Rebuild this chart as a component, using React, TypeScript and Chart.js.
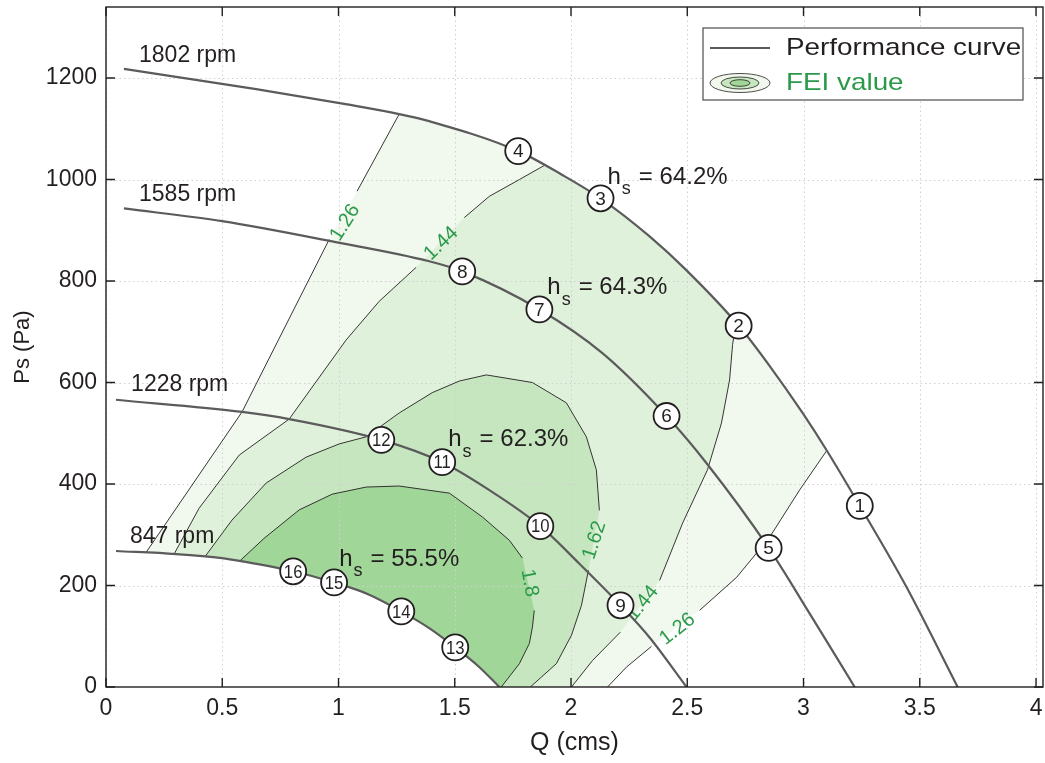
import React, { useEffect, useRef } from 'react';
import { Chart, registerables } from 'chart.js';

Chart.register(...registerables);

const FONT = "'Liberation Sans', Arial, Helvetica, sans-serif";
const INK = '#231f20';
const CURVE = '#5b5b5b';
const GREEN = '#2a9a4a';

const X_TICKS = [0, 0.5, 1, 1.5, 2, 2.5, 3, 3.5, 4];
const Y_TICKS = [0, 200, 400, 600, 800, 1000, 1200];

// Performance curves (Q in cms, Ps in Pa)
const RPM_LABELS = ['1802 rpm', '1585 rpm', '1228 rpm', '847 rpm'];
const Q_1802 = [0.077, 0.646, 1.037, 1.261, 1.39, 1.773, 1.959, 2.127, 2.338, 2.497, 2.725, 2.854, 2.996, 3.1, 3.242, 3.444, 3.663];
const PS_1802 = [1218, 1178, 1148, 1129, 1115, 1056, 1010, 963, 888, 821, 710, 633, 540, 466, 357, 196, 0];
const Q_1585 = [0.077, 0.499, 0.973, 1.39, 1.532, 1.864, 2.135, 2.411, 2.583, 2.85, 3.026, 3.22];
const PS_1585 = [943, 918, 878, 839, 819, 744, 658, 534, 441, 274, 145, 0];
const Q_1228 = [0.043, 0.585, 0.788, 1.184, 1.446, 1.649, 1.868, 2.036, 2.213, 2.337, 2.497];
const PS_1228 = [566, 542, 528, 487, 443, 388, 317, 243, 161, 98, 0];
const Q_847 = [0.043, 0.301, 0.499, 0.581, 0.805, 0.981, 1.132, 1.27, 1.39, 1.502, 1.606, 1.692];
const PS_847 = [268, 262, 254, 248, 228, 206, 182, 149, 116, 78, 39, 0];

const RPM_LABEL_Q = [0.142, 0.142, 0.108, 0.103];
const RPM_LABEL_PS = [1245, 971, 596, 297];

// Test points
const POINT_IDS = [1, 2, 3, 4, 5, 6, 7, 8, 9, 10, 11, 12, 13, 14, 15, 16];
const POINT_Q = [3.242, 2.721, 2.127, 1.773, 2.85, 2.411, 1.864, 1.532, 2.213, 1.868, 1.446, 1.184, 1.502, 1.27, 0.981, 0.805];
const POINT_PS = [357, 712, 963, 1056, 274, 534, 744, 819, 161, 317, 443, 487, 78, 149, 206, 228];

// Efficiency annotations
const EFF_TEXT = ['64.2%', '64.3%', '62.3%', '55.5%'];
const EFF_Q = [2.157, 1.898, 1.472, 1.003];
const EFF_PS = [1004, 787, 487, 252];

// FEI contour lines (null = break for label)
const L126_Q = [0.172, 0.585, 0.96, null, 1.08, 1.261];
const L126_PS = [265, 542, 882, null, 977, 1129];
const R126_Q = [3.1, 2.983, 2.854, 2.712, 2.553, null, 2.346, 2.238, 2.157];
const R126_PS = [466, 388, 295, 216, 151, null, 80, 39, 0];
const L144_Q = [0.293, 0.4, 0.573, 0.788, 1.033, 1.175, 1.334, null, 1.541, 1.649, 1.778, 1.886];
const L144_PS = [262, 352, 457, 528, 684, 760, 827, null, 925, 967, 1000, 1028];
const R144_Q = [2.71, 2.695, 2.682, 2.647, 2.587, 2.48, 2.381, null, 2.212, 2.092, 2.002];
const R144_PS = [718, 675, 605, 520, 428, 323, 210, null, 108, 52, 0];
const C162_Q = [0.426, 0.542, 0.689, 0.861, 1.003, 1.119, 1.261, 1.403, 1.52, 1.636, 1.834, 1.98, 2.066, 2.109, 2.122, null, 2.075, 2.045, 2.002, 1.937, 1.825];
const C162_PS = [257, 329, 402, 453, 479, 493, 540, 580, 603, 615, 600, 560, 493, 428, 348, null, 230, 161, 102, 46, 0];
const C18_Q = [0.577, 0.68, 0.831, 0.973, 1.119, 1.261, 1.477, 1.619, 1.735, 1.791, null, 1.842, 1.834, 1.821, 1.778, 1.7];
const C18_PS = [249, 293, 349, 380, 394, 396, 382, 335, 289, 254, null, 151, 118, 86, 46, 0];

const FEI_LABEL_TEXT = ['1.26', '1.44', '1.62', '1.8', '1.44', '1.26'];
const FEI_LABEL_Q = [1.029, 1.442, 2.101, 1.821, 2.307, 2.458];
const FEI_LABEL_PS = [915, 874, 289, 205, 165, 114];
const FEI_LABEL_ANGLE = [-58, -44, -72, 80, -51, -38];

const FILL_COLORS = ['#f1f8ee', '#e0f1db', '#c6e6bf', '#a1d699'];

type Pt = { x: number | null; y: number | null };
const toPts = (qs: (number | null)[], ps: (number | null)[]): Pt[] => qs.map((q, i) => ({ x: q, y: ps[i] }));
const solid = (qs: (number | null)[], ps: (number | null)[]) => toPts(qs, ps).filter((p) => p.x !== null && p.y !== null);
const between = (qs: number[], ps: number[], a: number, b: number) => solid(qs, ps).filter((p) => (p.x as number) > a && (p.x as number) < b);
const closedShape = (pts: Pt[]): Pt[] => {
  const p0 = pts[0];
  return [{ x: -1, y: p0.y }, ...pts, { x: p0.x, y: p0.y }, { x: 5, y: p0.y }];
};

const REGION_126 = closedShape([
  ...solid(L126_Q, L126_PS),
  ...between(Q_1802, PS_1802, 1.261, 3.1),
  ...solid(R126_Q, R126_PS),
  ...between(Q_847, PS_847, 0.172, 9).reverse(),
]);
const REGION_144 = closedShape([
  ...solid(L144_Q, L144_PS),
  ...between(Q_1802, PS_1802, 1.886, 2.71),
  ...solid(R144_Q, R144_PS),
  ...between(Q_847, PS_847, 0.293, 9).reverse(),
]);
const REGION_162 = closedShape([...solid(C162_Q, C162_PS), ...between(Q_847, PS_847, 0.426, 9).reverse()]);
const REGION_18 = closedShape([...solid(C18_Q, C18_PS), ...between(Q_847, PS_847, 0.577, 9).reverse()]);

const overlayPlugin = {
  id: 'overlay',
  afterDatasetDraw(chart: any, args: any) {
    const ds = chart.data.datasets[args.index];
    if (ds.label !== 'FEI ≥ 1.8') return;
    const { ctx, chartArea: a, scales } = chart;
    const xs = scales.x;
    const ys = scales.y;
    ctx.save();
    ctx.beginPath();
    ctx.rect(a.left, a.top, a.right - a.left, a.bottom - a.top);
    ctx.clip();
    ctx.strokeStyle = '#d0d0d0';
    ctx.lineWidth = 1;
    ctx.setLineDash([1.5, 3]);
    X_TICKS.forEach((v) => {
      const px = Math.round(xs.getPixelForValue(v)) + 0.5;
      ctx.beginPath();
      ctx.moveTo(px, a.top);
      ctx.lineTo(px, a.bottom);
      ctx.stroke();
    });
    Y_TICKS.forEach((v) => {
      const py = Math.round(ys.getPixelForValue(v)) + 0.5;
      ctx.beginPath();
      ctx.moveTo(a.left, py);
      ctx.lineTo(a.right, py);
      ctx.stroke();
    });
    ctx.setLineDash([]);
    // contour labels
    ctx.fillStyle = GREEN;
    ctx.font = `20px ${FONT}`;
    ctx.textAlign = 'center';
    ctx.textBaseline = 'middle';
    FEI_LABEL_TEXT.forEach((t, i) => {
      ctx.save();
      ctx.translate(xs.getPixelForValue(FEI_LABEL_Q[i]), ys.getPixelForValue(FEI_LABEL_PS[i]));
      ctx.rotate((FEI_LABEL_ANGLE[i] * Math.PI) / 180);
      ctx.fillText(t, 0, 0);
      ctx.restore();
    });
    ctx.restore();
  },
  afterDatasetsDraw(chart: any) {
    const { ctx, chartArea: a, scales } = chart;
    const xs = scales.x;
    const ys = scales.y;
    ctx.save();
    // marker numbers
    ctx.fillStyle = INK;
    ctx.textAlign = 'center';
    ctx.textBaseline = 'middle';
    ctx.font = `19px ${FONT}`;
    POINT_IDS.forEach((id, i) => {
      const px = xs.getPixelForValue(POINT_Q[i]);
      const py = ys.getPixelForValue(POINT_PS[i]);
      ctx.save();
      ctx.translate(px, py + 1);
      if (id >= 10) ctx.scale(0.88, 1);
      ctx.fillText(String(id), 0, 0);
      ctx.restore();
    });
    // rpm labels
    ctx.textAlign = 'left';
    ctx.font = `23px ${FONT}`;
    RPM_LABELS.forEach((t, i) => {
      ctx.fillText(t, xs.getPixelForValue(RPM_LABEL_Q[i]), ys.getPixelForValue(RPM_LABEL_PS[i]));
    });
    // efficiency labels
    EFF_TEXT.forEach((t, i) => {
      const px = xs.getPixelForValue(EFF_Q[i]);
      const py = ys.getPixelForValue(EFF_PS[i]);
      ctx.font = `24px ${FONT}`;
      const hw = ctx.measureText('h').width;
      ctx.fillText('h', px, py);
      ctx.font = `18px ${FONT}`;
      const sw = ctx.measureText('s').width;
      ctx.fillText('s', px + hw + 1, py + 12);
      ctx.font = `24px ${FONT}`;
      ctx.fillText('= ' + t, px + hw + 1 + sw + 8, py);
    });
    // frame and inward ticks
    ctx.strokeStyle = INK;
    ctx.lineWidth = 1.4;
    ctx.strokeRect(a.left, a.top, a.right - a.left, a.bottom - a.top);
    ctx.beginPath();
    X_TICKS.forEach((v) => {
      const px = xs.getPixelForValue(v);
      ctx.moveTo(px, a.bottom);
      ctx.lineTo(px, a.bottom - 9);
      ctx.moveTo(px, a.top);
      ctx.lineTo(px, a.top + 9);
    });
    Y_TICKS.forEach((v) => {
      const py = ys.getPixelForValue(v);
      ctx.moveTo(a.left, py);
      ctx.lineTo(a.left + 9, py);
      ctx.moveTo(a.right, py);
      ctx.lineTo(a.right - 9, py);
    });
    ctx.stroke();
    // legend
    const lx = a.right - 340;
    const ly = a.top + 21;
    const lw = 320;
    const lh = 72;
    ctx.fillStyle = '#ffffff';
    ctx.fillRect(lx, ly, lw, lh);
    ctx.strokeStyle = '#4d4d4d';
    ctx.lineWidth = 1.2;
    ctx.strokeRect(lx, ly, lw, lh);
    ctx.strokeStyle = CURVE;
    ctx.lineWidth = 2.2;
    ctx.beginPath();
    ctx.moveTo(lx + 7, ly + 20);
    ctx.lineTo(lx + 67, ly + 20);
    ctx.stroke();
    const ex = lx + 37;
    const ey = ly + 55;
    const ell = (rx: number, ry: number, fill: string) => {
      ctx.beginPath();
      ctx.ellipse(ex, ey, rx, ry, 0, 0, Math.PI * 2);
      ctx.fillStyle = fill;
      ctx.fill();
      ctx.strokeStyle = INK;
      ctx.lineWidth = 0.8;
      ctx.stroke();
    };
    ell(30, 9.5, FILL_COLORS[0]);
    ell(19, 6, FILL_COLORS[2]);
    ell(10, 3.3, FILL_COLORS[3]);
    ctx.font = `24px ${FONT}`;
    ctx.textAlign = 'left';
    ctx.textBaseline = 'middle';
    ctx.save();
    ctx.translate(lx + 83, ly + 20);
    ctx.scale(1.16, 1);
    ctx.fillStyle = INK;
    ctx.fillText('Performance curve', 0, 0);
    ctx.restore();
    ctx.save();
    ctx.translate(lx + 83, ly + 55);
    ctx.scale(1.16, 1);
    ctx.fillStyle = GREEN;
    ctx.fillText('FEI value', 0, 0);
    ctx.restore();
    ctx.restore();
  },
};

export default function App() {
  const ref = useRef<HTMLCanvasElement | null>(null);
  useEffect(() => {
    if (!ref.current) return;
    const fillDs = (label: string, data: Pt[], color: string, order: number) => ({
      label,
      data,
      fill: 'shape',
      backgroundColor: color,
      borderWidth: 0,
      pointRadius: 0,
      tension: 0,
      order,
    });
    const contourDs = (label: string, qs: (number | null)[], ps: (number | null)[]) => ({
      label,
      data: toPts(qs, ps),
      borderColor: INK,
      borderWidth: 0.9,
      fill: false,
      pointRadius: 0,
      tension: 0,
      spanGaps: false,
      order: 5,
    });
    const curveDs = (label: string, qs: number[], ps: number[]) => ({
      label,
      data: toPts(qs, ps),
      borderColor: CURVE,
      borderWidth: 2.2,
      fill: false,
      pointRadius: 0,
      cubicInterpolationMode: 'monotone',
      order: 3,
    });
    const chart = new Chart(ref.current, {
      type: 'line',
      data: {
        datasets: [
          fillDs('FEI ≥ 1.26', REGION_126, FILL_COLORS[0], 10),
          fillDs('FEI ≥ 1.44', REGION_144, FILL_COLORS[1], 9),
          fillDs('FEI ≥ 1.62', REGION_162, FILL_COLORS[2], 8),
          fillDs('FEI ≥ 1.8', REGION_18, FILL_COLORS[3], 7),
          contourDs('1.26 left', L126_Q, L126_PS),
          contourDs('1.26 right', R126_Q, R126_PS),
          contourDs('1.44 left', L144_Q, L144_PS),
          contourDs('1.44 right', R144_Q, R144_PS),
          contourDs('1.62', C162_Q, C162_PS),
          contourDs('1.8', C18_Q, C18_PS),
          curveDs(RPM_LABELS[0], Q_1802, PS_1802),
          curveDs(RPM_LABELS[1], Q_1585, PS_1585),
          curveDs(RPM_LABELS[2], Q_1228, PS_1228),
          curveDs(RPM_LABELS[3], Q_847, PS_847),
          {
            label: 'Test points',
            data: toPts(POINT_Q, POINT_PS),
            showLine: false,
            pointRadius: 13,
            pointBackgroundColor: '#ffffff',
            pointBorderColor: INK,
            pointBorderWidth: 1.8,
            order: 1,
          },
        ] as any,
      },
      options: {
        animation: false,
        responsive: true,
        maintainAspectRatio: false,
        events: [],
        layout: { autoPadding: false, padding: { left: 0, right: 2, top: 7, bottom: 0 } },
        plugins: { legend: { display: false }, tooltip: { enabled: false }, title: { display: false } },
        scales: {
          x: {
            type: 'linear',
            min: 0,
            max: 4.03,
            grid: { display: false, drawTicks: false },
            border: { display: false },
            afterBuildTicks: (s: any) => {
              s.ticks = X_TICKS.map((v) => ({ value: v }));
            },
            afterFit: (s: any) => {
              s.height = 76;
              s.paddingLeft = 0;
              s.paddingRight = 0;
            },
            ticks: {
              autoSkip: false,
              maxRotation: 0,
              padding: 8,
              color: INK,
              font: { family: FONT, size: 23 },
              callback: (v: any) => String(v),
            },
            title: { display: true, text: 'Q (cms)', color: INK, font: { family: FONT, size: 25 }, padding: { top: 0, bottom: 5 } },
          },
          y: {
            type: 'linear',
            min: 0,
            max: 1340,
            grid: { display: false, drawTicks: false },
            border: { display: false },
            afterBuildTicks: (s: any) => {
              s.ticks = Y_TICKS.map((v) => ({ value: v }));
            },
            afterFit: (s: any) => {
              s.width = 106;
              s.paddingTop = 0;
              s.paddingBottom = 0;
            },
            ticks: {
              autoSkip: false,
              padding: 9,
              color: INK,
              font: { family: FONT, size: 23 },
              callback: (v: any) => String(v),
            },
            title: { display: true, text: 'Ps (Pa)', color: INK, font: { family: FONT, size: 22 }, padding: { top: 10, bottom: 0 } },
          },
        },
      } as any,
      plugins: [overlayPlugin],
    });
    return () => chart.destroy();
  }, []);
  return (
    <div style={{ position: 'absolute', left: 0, top: 0, width: 1045, height: 763, background: '#ffffff' }}>
      <canvas ref={ref} />
    </div>
  );
}
